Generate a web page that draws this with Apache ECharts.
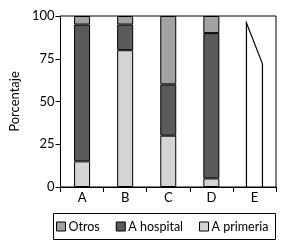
<!DOCTYPE html>
<html><head><meta charset="utf-8">
<script src="https://cdn.jsdelivr.net/npm/echarts@6/dist/echarts.min.js"></script>
<style>html,body{margin:0;padding:0;background:#fff}#c{width:288px;height:251px}</style>
</head><body><div id="c"></div>
<script>
var categories = ['A', 'B', 'C', 'D', 'E'];
var primeria = [15, 80, 30, 5, null];
var hospital = [80, 15, 30, 85, null];
var otros = [5, 5, 40, 10, null];
var eOutlineCategory = 'E';
var eOutline = [96, 72];
var yTicks = [0, 25, 50, 75, 100];

var font = 'Lato, "DejaVu Sans", sans-serif';
var chart = echarts.init(document.getElementById('c'));
var barW = 16;
function barSeries(name, data, color) {
  return {
    name: name, type: 'bar', stack: 'total', data: data, barWidth: barW,
    itemStyle: { color: color, borderColor: '#000', borderWidth: 1 },
    animation: false
  };
}
chart.setOption({
  animation: false,
  grid: { left: 54, right: 12, top: 16, bottom: 64, show: true, borderColor: '#000', borderWidth: 1 },
  legend: {
    data: ['Otros', 'A hospital', 'A primeria'],
    left: 51, top: 215, padding: 5, itemWidth: 9, itemHeight: 9, itemGap: 16,
    icon: 'rect',
    itemStyle: { borderColor: '#000', borderWidth: 1 },
    textStyle: { fontFamily: font, fontSize: 12.5, color: '#000', padding: [0, 0, 0, -2] }
  },
  graphic: [{ type: 'rect', shape: { x: 53.5, y: 213.5, width: 222, height: 26 }, style: { fill: null, stroke: '#000', lineWidth: 1 } }],
  xAxis: {
    type: 'category', data: categories,
    axisLine: { lineStyle: { color: '#000', width: 1 } },
    axisTick: { show: true, length: 5, inside: false, lineStyle: { color: '#000' } },
    axisLabel: { fontFamily: font, fontSize: 13, color: '#000', margin: 4 },
    splitLine: { show: false }
  },
  yAxis: {
    type: 'value', min: 0, max: 100, interval: 25,
    name: 'Porcentaje', nameLocation: 'middle', nameGap: 34, nameRotate: 90,
    nameTextStyle: { fontFamily: font, fontSize: 13, color: '#000' },
    axisLine: { show: true, lineStyle: { color: '#000', width: 1 } },
    axisTick: { show: true, length: 5, lineStyle: { color: '#000' } },
    axisLabel: { fontFamily: font, fontSize: 13, color: '#000', margin: 6,
      formatter: function (v) { return yTicks.indexOf(v) >= 0 ? String(v) : ''; } },
    splitLine: { show: false }
  },
  series: [
    barSeries('A primeria', primeria, '#d4d4d4'),
    barSeries('A hospital', hospital, '#5a5a5a'),
    barSeries('Otros', otros, '#a2a2a2'),
    {
      type: 'custom', name: 'E', silent: true, animation: false,
      data: [[categories.indexOf(eOutlineCategory), eOutline[0], eOutline[1]]],
      renderItem: function (params, api) {
        var idx = api.value(0);
        var base = api.coord([idx, 0]);
        var tl = api.coord([idx, api.value(1)]);
        var tr = api.coord([idx, api.value(2)]);
        var h = barW / 2;
        return {
          type: 'polyline',
          shape: { points: [[base[0] - h, base[1]], [tl[0] - h, tl[1]], [tr[0] + h, tr[1]], [base[0] + h, base[1]]] },
          style: { stroke: '#000', lineWidth: 1.2, fill: null }
        };
      }
    }
  ]
});
</script></body></html>
